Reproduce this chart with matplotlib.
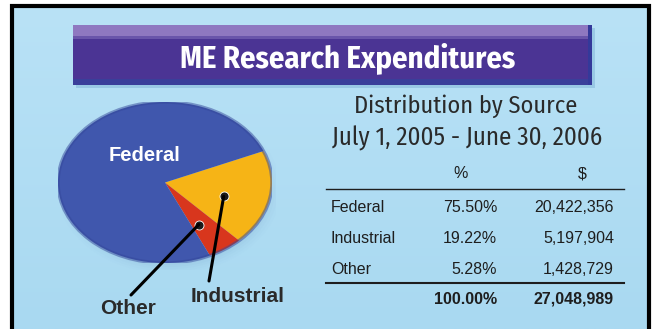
import numpy as np
import matplotlib.pyplot as plt
from matplotlib.colors import LinearSegmentedColormap
from matplotlib.patches import Rectangle, Ellipse

# expenditures by source, FY 2005-06
sources = ['Federal', 'Industrial', 'Other']
percents = [75.50, 19.22, 5.28]
dollars = [20422356, 5197904, 1428729]
total_pct = 100.00
total_dollars = 27048989

title = 'ME Research Expenditures'
subtitle = ['Distribution by Source', 'July 1, 2005 - June 30, 2006']

W, H = 652, 329
fig = plt.figure(figsize=(W / 100, H / 100), dpi=100)
fig.patch.set_facecolor('white')

# background canvas in pixel units
bg = fig.add_axes([0, 0, 1, 1])
bg.set_xlim(0, W)
bg.set_ylim(H, 0)
bg.axis('off')

# light blue panel with a soft vertical gradient
grad = np.linspace(0, 1, 200).reshape(-1, 1)
panel_cmap = LinearSegmentedColormap.from_list('panel', ['#b9e2f6', '#a9d9f1'])
bg.imshow(grad, extent=(11, 649, H, 5), cmap=panel_cmap, aspect='auto', zorder=0)
bg.plot([11.5, 11.5, 648.5, 648.5], [H, 5.5, 5.5, H], color='black', lw=3, zorder=5,
        solid_joinstyle='miter')

cond = ['Fira Sans Condensed', 'DejaVu Sans']

# title banner
bg.add_patch(Rectangle((76, 28), 519, 60, facecolor='#7fb3d6', alpha=0.5, lw=0, zorder=1))
bg.add_patch(Rectangle((73, 25), 519, 60, facecolor='#4b3494', lw=0, zorder=2))
bg.add_patch(Rectangle((73, 25), 519, 11, facecolor='#8f78c0', lw=0, zorder=3))
bg.add_patch(Rectangle((73, 36), 519, 3, facecolor='#6a55aa', lw=0, zorder=3))
bg.add_patch(Rectangle((73, 79), 519, 6, facecolor='#3a3f9a', lw=0, zorder=3))
bg.add_patch(Rectangle((588, 25), 4, 60, facecolor='#34399a', lw=0, zorder=3))
bg.text(348, 58, title, color='white', fontsize=22, fontweight='bold',
        family=cond, ha='center', va='center', zorder=4)

# table heading
bg.text(466, 106, subtitle[0], color='#2a2a2a', fontsize=17.5, fontweight='normal',
        family=cond, ha='center', va='center')
bg.text(467, 138, subtitle[1], color='#2a2a2a', fontsize=18, fontweight='normal',
        family=cond, ha='center', va='center')

tfont = dict(family=['Liberation Sans', 'DejaVu Sans'], fontsize=11.5, color='#1e1e1e')
col_pct, col_usd, col_lab = 497, 614, 331
bg.text(461, 174, '%', ha='center', va='center', **tfont)
bg.text(582, 174, '$', ha='center', va='center', **tfont)
bg.plot([326, 624], [189, 189], color='#1e1e1e', lw=1)
for i, (s, p, d) in enumerate(zip(sources, percents, dollars)):
    y = 207 + i * 31.5
    bg.text(col_lab, y, s, ha='left', va='center', **tfont)
    bg.text(col_pct, y, f'{p:.2f}%', ha='right', va='center', **tfont)
    bg.text(col_usd, y, f'{d:,}', ha='right', va='center', **tfont)
bg.plot([326, 624], [283, 283], color='#1e1e1e', lw=1.5)
bg.text(col_pct, 299, f'{total_pct:.2f}%', ha='right', va='center', fontweight='bold', **tfont)
bg.text(col_usd, 299, f'{total_dollars:,}', ha='right', va='center', fontweight='bold', **tfont)

# soft shadow under the pie
shadow = fig.add_axes([62 / W, 1 - 270 / H, 214 / W, 161 / H])
shadow.set_xlim(-1.1, 1.1)
shadow.set_ylim(-1.1, 1.1)
shadow.axis('off')
for k, a in enumerate(np.linspace(0.05, 0.015, 6)):
    shadow.add_patch(Ellipse((0, 0), 2.0 + k * 0.06, 2.0 + k * 0.06,
                             facecolor='#5f86b8', alpha=a, lw=0))

# pie drawn as an ellipse (axes not equal aspect)
ax = fig.add_axes([58 / W, 1 - 263 / H, 214 / W, 161 / H])
order = [1, 2, 0]
vals = [percents[i] for i in order]
cols = ['#f6b416', '#d8361d', '#4057ad']
start = 23
wedges, _ = ax.pie(vals, colors=cols, startangle=start, counterclock=False,
                   wedgeprops=dict(linewidth=0))
ax.set_aspect('auto')
ax.set_xlim(-1, 1)
ax.set_ylim(-1, 1)
ax.axis('off')

# darker rim for a bit of depth
ax.add_patch(Ellipse((0, 0), 2, 2, facecolor='none', edgecolor='#34479a', lw=2.5, alpha=0.5))

ax.text(-0.19, 0.34, 'Federal', color='white', fontsize=14.5, fontweight='bold',
        family=['Liberation Sans', 'DejaVu Sans'], ha='center', va='center')

# pointer lines to the small wedges
angles = []
a0 = start
for v in vals:
    a1 = a0 - v * 3.6
    angles.append((a0 + a1) / 2)
    a0 = a1
ends = {'Industrial': (209, H - 281), 'Other': (131, H - 295)}
for name, ang in zip(['Industrial', 'Other'], angles[:2]):
    r = 0.56
    xy = (r * np.cos(np.radians(ang)), r * np.sin(np.radians(ang)) - 0.06)
    ax.annotate('', xy=xy, xytext=ends[name], textcoords='figure pixels',
                arrowprops=dict(arrowstyle='-', color='black', lw=2.2, shrinkA=0, shrinkB=0),
                annotation_clip=False)
    ax.plot(*xy, 'o', color='#1a1a1a', ms=6.5, mec='white', mew=0.6)

lab = dict(family=['Liberation Sans', 'DejaVu Sans'], fontsize=15, fontweight='bold',
           color='#2a2a2a', va='center')
bg.text(128, 308, 'Other', ha='center', **lab)
bg.text(238, 297, 'Industrial', ha='center', **lab)

fig.savefig('out.png', dpi=100)
